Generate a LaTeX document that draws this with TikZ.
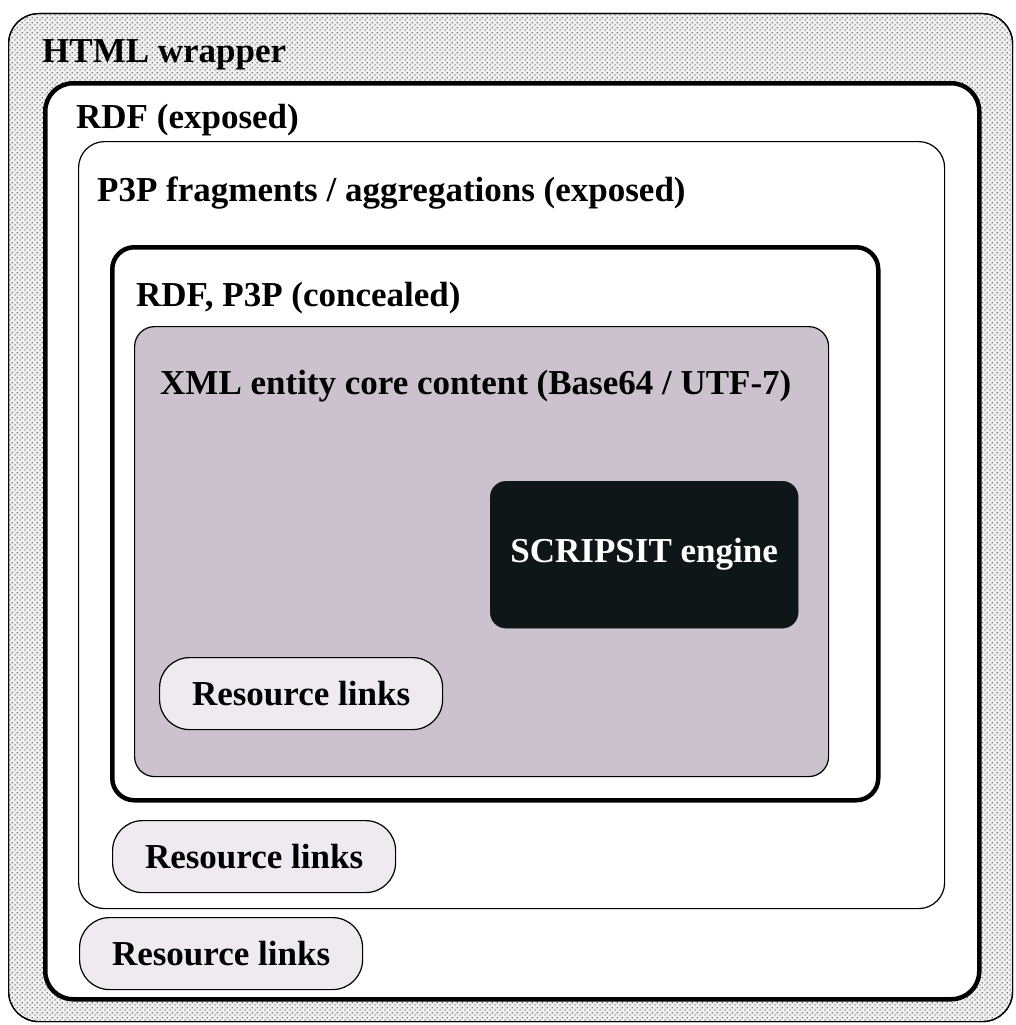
\documentclass[tikz,border=0pt]{standalone}
\usepackage{fontspec}
\setmainfont{Liberation Serif}
\usetikzlibrary{patterns,patterns.meta}
\definecolor{xmlfill}{RGB}{203,194,206}
\definecolor{linkfill}{RGB}{238,234,240}
\definecolor{enginefill}{RGB}{14,22,24}
\tikzdeclarepattern{
  name=coarsedots,
  type=uncolored,
  bottom left={(0pt,0pt)},
  top right={(4.6pt,4.6pt)},
  tile size={(4.6pt,4.6pt)},
  code={
    \pgfpathcircle{\pgfpoint{1.15pt}{1.15pt}}{0.75pt}
    \pgfpathcircle{\pgfpoint{3.45pt}{3.45pt}}{0.75pt}
    \pgfusepath{fill}
  }
}
\tikzset{
  x=1pt, y=-1pt,
  boxthin/.style={draw=black, line width=1.2pt, inner sep=0pt, anchor=north west},
  boxthick/.style={draw=black, line width=4.5pt, inner sep=0pt, anchor=north west},
  lbl/.style={anchor=base west, inner sep=0pt, font=\fontsize{35}{41}\selectfont\bfseries},
  linkbox/.style={draw=black, line width=1.2pt, fill=linkfill, rounded corners=30pt, minimum width=283pt, minimum height=72pt, font=\fontsize{35}{41}\selectfont\bfseries, anchor=north west, inner sep=0pt},
}
\begin{document}
\begin{tikzpicture}
\useasboundingbox (0,0) rectangle (1016,1025);
% HTML wrapper
\node[boxthin, rounded corners=30pt, minimum width=1004pt, minimum height=1008pt,
  preaction={fill=gray!12}, pattern=coarsedots, pattern color=black!72] (html) at (8,13) {};
\node[boxthin, rounded corners=30pt, minimum width=1004pt, minimum height=1008pt] (htmlb) at (8,13) {};
\node[lbl] (htmltxt) at (42,63) {HTML wrapper};
% RDF exposed
\node[boxthick, fill=white, rounded corners=28pt, minimum width=934pt, minimum height=916pt] (rdf) at (43,81) {};
\node[lbl] (rdftxt) at (76,128) {RDF (exposed)};
% P3P exposed
\node[boxthin, fill=white, rounded corners=26pt, minimum width=866pt, minimum height=767pt] (p3p) at (78,141) {};
\node[lbl] (p3ptxt) at (97,201) {P3P fragments / aggregations (exposed)};
% concealed
\node[boxthick, fill=white, rounded corners=22pt, minimum width=766pt, minimum height=553pt] (conc) at (110,245) {};
\node[lbl] (conctxt) at (136,306) {RDF, P3P (concealed)};
% XML core
\node[boxthin, fill=xmlfill, rounded corners=20pt, minimum width=694pt, minimum height=450pt] (xml) at (134,326) {};
\node[lbl] (xmltxt) at (160,394) {XML entity core content (Base64 / UTF-7)};
% SCRIPSIT engine
\node[draw=enginefill, fill=enginefill, rounded corners=16pt, minimum width=308pt, minimum height=147pt,
  anchor=north west, inner sep=0pt, text=white, font=\fontsize{35}{41}\selectfont\bfseries] (eng) at (490,481) {SCRIPSIT engine};
% Resource links
\node[linkbox] (rl1) at (159,657) {Resource links};
\node[linkbox] (rl2) at (112,820) {Resource links};
\node[linkbox] (rl3) at (79,917) {Resource links};
\end{tikzpicture}
\end{document}
